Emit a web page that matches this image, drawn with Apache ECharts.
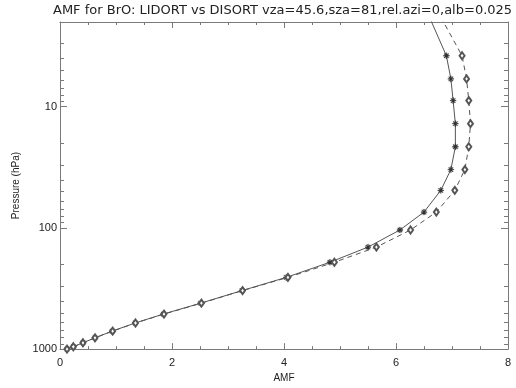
<!DOCTYPE html>
<html>
<head>
<meta charset="utf-8">
<script src="https://cdn.jsdelivr.net/npm/echarts@6/dist/echarts.min.js"></script>
<style>html,body{margin:0;padding:0;background:#fff;}#c{width:516px;height:388px;}</style>
</head>
<body>
<div id="c"></div>
<script>
// Pressure levels (hPa) shared by both curves (first one lies above the plotted range)
const pressure = [1, 3.8, 5.9, 8.9, 13.8, 21.4, 33, 49, 74, 104, 144, 192, 256, 329, 418, 514, 609, 711, 807, 887, 956, 1000];
// AMF values, LIDORT (solid, asterisks)
const amfLidort = [6.35, 6.90, 6.98, 7.02, 7.06, 7.06, 6.98, 6.80, 6.50, 6.07, 5.50, 4.82, 4.04, 3.25, 2.51, 1.845, 1.343, 0.93, 0.625, 0.41, 0.238, 0.125];
// AMF values, DISORT (dashed, diamonds)
const amfDisort = [6.49, 7.18, 7.26, 7.30, 7.33, 7.30, 7.23, 7.05, 6.72, 6.26, 5.65, 4.90, 4.07, 3.26, 2.525, 1.857, 1.348, 0.94, 0.625, 0.41, 0.238, 0.125];
// Axis ticks
const xTicks = [0, 2, 4, 6, 8];
const yMajorTicks = [10, 100, 1000];
const yMinorTicks = [2, 3, 4, 5, 6, 7, 8, 9, 20, 30, 40, 50, 60, 70, 80, 90, 200, 300, 400, 500, 600, 700, 800, 900];
const titleText = 'AMF for BrO: LIDORT vs DISORT vza=45.6,sza=81,rel.azi=0,alb=0.025';

const axisColor = '#7a7a7a';
const textColor = '#222';
const lineColor = '#555';
const font = 'Liberation Sans';

const asterisk = 'path://M-5 -0.7H5V0.7H-5Z M-0.7 -5H0.7V5H-0.7Z M-3.04 -4.03L4.03 3.04L3.04 4.03L-4.03 -3.04Z M3.04 -4.03L4.03 -3.04L-3.04 4.03L-4.03 3.04Z';

const chart = echarts.init(document.getElementById('c'), null, {renderer: 'canvas'});

const xBase = {
  type: 'value', min: xTicks[0], max: xTicks[xTicks.length - 1], interval: 2,
  axisLine: {show: true, onZero: false, lineStyle: {color: axisColor, width: 1}},
  axisTick: {show: true, inside: true, length: 6, lineStyle: {color: axisColor, width: 1}},
  minorTick: {show: true, splitNumber: 4, length: 3, lineStyle: {color: axisColor, width: 1}},
  splitLine: {show: false}
};
const yBase = {
  type: 'log', logBase: 10, min: 2, max: 1000, inverse: true,
  axisLine: {show: true, onZero: false, lineStyle: {color: axisColor, width: 1}},
  axisTick: {show: true, inside: true, length: 7, lineStyle: {color: axisColor, width: 1}},
  splitLine: {show: false}
};

chart.setOption({
  animation: false,
  backgroundColor: '#fff',
  graphic: [{
    type: 'text', left: 53, top: 4, z: 100,
    style: {text: titleText, font: '13px "DejaVu Sans"', fill: textColor}
  }],
  grid: {left: 60, right: 8, top: 22, bottom: 34, containLabel: false},
  xAxis: [
    Object.assign({}, xBase, {
      position: 'bottom', name: 'AMF', nameLocation: 'middle', nameGap: 22,
      nameTextStyle: {fontFamily: font, fontSize: 10, color: textColor},
      axisLabel: {show: true, margin: 8, fontFamily: font, fontSize: 11, color: textColor}
    }),
    Object.assign({}, xBase, {position: 'top', axisLabel: {show: false}})
  ],
  yAxis: [
    Object.assign({}, yBase, {
      position: 'left', name: 'Pressure (hPa)', nameLocation: 'middle', nameGap: 34, nameRotate: 90,
      nameTextStyle: {fontFamily: font, fontSize: 10, color: textColor},
      axisLabel: {show: true, margin: 3, showMinLabel: false, fontFamily: font, fontSize: 11, color: textColor,
        formatter: v => (yMajorTicks.indexOf(Math.round(v)) >= 0 ? String(Math.round(v)) : '')}
    }),
    Object.assign({}, yBase, {position: 'right', axisLabel: {show: false}})
  ],
  series: [
    {
      name: 'LIDORT', type: 'line', xAxisIndex: 0, yAxisIndex: 0,
      data: pressure.map((p, i) => [amfLidort[i], p]),
      clip: true, smooth: false,
      symbol: asterisk, symbolSize: 6,
      itemStyle: {color: '#333', borderColor: '#333', borderWidth: 0.3},
      lineStyle: {color: lineColor, width: 1, type: 'solid'}
    },
    {
      name: 'DISORT', type: 'line', xAxisIndex: 0, yAxisIndex: 0,
      data: pressure.map((p, i) => [amfDisort[i], p]),
      clip: true, smooth: false,
      symbol: 'emptyDiamond', symbolSize: [5, 7],
      itemStyle: {color: lineColor, borderColor: lineColor, borderWidth: 0.8},
      lineStyle: {color: lineColor, width: 1, type: [5, 4]}
    },
    {
      name: 'minorY', type: 'custom', xAxisIndex: 0, yAxisIndex: 0, silent: true, z: 10,
      data: yMinorTicks.map(v => [xTicks[0], v]),
      renderItem: function (params, api) {
        const v = api.value(1);
        const l = api.coord([xTicks[0], v]);
        const r = api.coord([xTicks[xTicks.length - 1], v]);
        const y = Math.round(l[1]) + 0.5;
        const st = {stroke: axisColor, lineWidth: 1};
        return {
          type: 'group',
          children: [
            {type: 'line', shape: {x1: l[0], y1: y, x2: l[0] + 4, y2: y}, style: st},
            {type: 'line', shape: {x1: r[0], y1: y, x2: r[0] - 4, y2: y}, style: st}
          ]
        };
      }
    }
  ]
});
</script>
</body>
</html>
